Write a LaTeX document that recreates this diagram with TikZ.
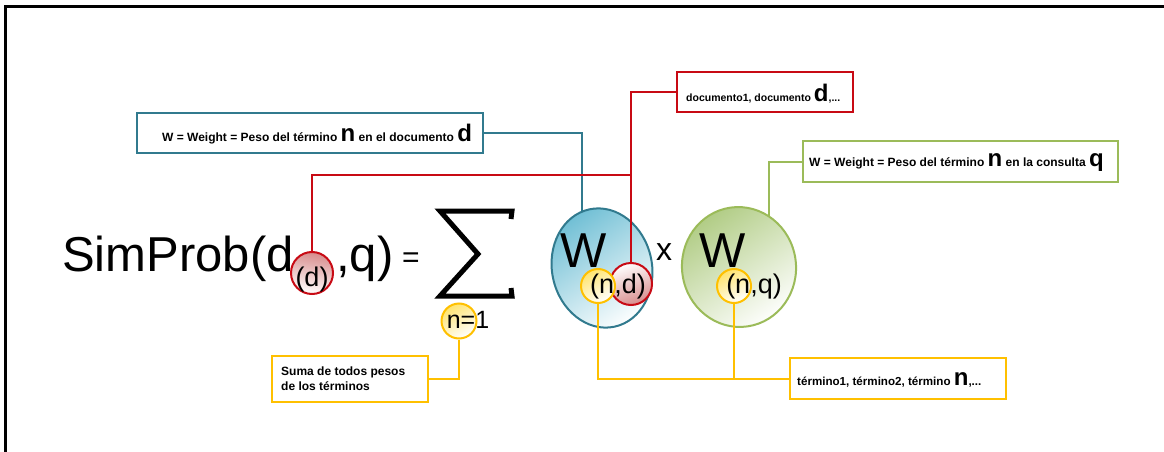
\documentclass[tikz,border=0pt]{standalone}
\usepackage{fontspec}
\setmainfont{Liberation Sans}
\usetikzlibrary{shapes.geometric,calc}
\pgfdeclarelayer{background}
\pgfsetlayers{background,main}
\definecolor{bluec}{RGB}{49,122,142}
\definecolor{bluef}{RGB}{110,190,212}
\definecolor{redc}{RGB}{200,10,20}
\definecolor{redf}{RGB}{215,140,140}
\definecolor{greenc}{RGB}{155,187,89}
\definecolor{greenf}{RGB}{175,203,130}
\definecolor{yelc}{RGB}{255,192,0}
\definecolor{yelf}{RGB}{255,228,110}
\tikzset{
  lbl/.style={inner sep=0pt,anchor=west,font=\fontsize{12}{15}\selectfont\bfseries,align=left},
  box/.style={draw=#1,line width=2pt,fill=white,inner sep=0pt},
  conn/.style={draw=#1,line width=2pt},
  big/.style={inner sep=0pt,font=\fontsize{49}{49}\selectfont},
  mid/.style={inner sep=0pt,font=\fontsize{27}{27}\selectfont},
}
\newcommand{\lgch}[1]{{\fontsize{24}{24}\selectfont #1}}
\begin{document}
\begin{tikzpicture}[x=1pt,y=-1pt]
\useasboundingbox (0,0) rectangle (1164,452);
% frame
\draw[line width=3pt,black] (5,452) -- (5,7) -- (1164,7);

% boxes
\node[box=bluec,minimum width=346pt,minimum height=40pt] (bluebox) at (310,133) {};
\node[lbl] at (162,134) {W = Weight = Peso del término \lgch{n} en el documento \lgch{d}};
\node[box=redc,minimum width=176pt,minimum height=40pt] (redbox) at (765,92) {};
\node[lbl,font=\fontsize{10.5}{13}\selectfont\bfseries] at (686,94) {documento1, documento \lgch{d},...};
\node[box=greenc,minimum width=315pt,minimum height=41pt] (greenbox) at (960.5,161.5) {};
\node[lbl] at (809,163) {W = Weight = Peso del término \lgch{n} en la consulta \lgch{q}};
\node[box=yelc,minimum width=156pt,minimum height=46pt] (sumbox) at (350,379) {};
\node[lbl] at (281,379) {Suma de todos pesos\\de los términos};
\node[box=yelc,minimum width=216pt,minimum height=41pt] (termbox) at (897.5,378.5) {};
\node[lbl,font=\fontsize{11.6}{13}\selectfont\bfseries] at (797,380) {término1, término2, término \lgch{n},...};

% ellipses
\node[ellipse,draw=bluec,line width=2pt,minimum width=100pt,minimum height=120pt,rotate=12,
  top color=bluef,bottom color=white,shading angle=35] (blueell) at (602,268) {};
\node[ellipse,draw=greenc,line width=2pt,minimum width=114pt,minimum height=120pt,rotate=8,
  top color=greenf,bottom color=white,shading angle=35] (greenell) at (739,267) {};

% formula
\node[big,anchor=base west] (simprob) at (62,271) {SimProb(d};
\node[circle,draw=redc,line width=2pt,minimum size=42pt,top color=redf,bottom color=white,shading angle=-10] (redd) at (312,273) {};
\node[mid] at (312,280) {(d)};
\node[big,anchor=base west] (q) at (336,271) {,q)};
\node[inner sep=0pt,font=\fontsize{30}{30}\selectfont] (eq) at (411,260) {=};
\draw[line width=5pt,line join=miter] (511,219) -- (512,211) -- (440,211) -- (478,254) -- (440,296) -- (512,296) -- (511,288);
\node[circle,draw=yelc,line width=2pt,minimum size=35pt,top color=yelf,bottom color=white,shading angle=30] (ysum) at (459,321) {};
\node[inner sep=0pt,font=\fontsize{25}{25}\selectfont] at (468,320) {n=1};

\node[big] (w1) at (584,251) {W};
\node[circle,draw=redc,line width=2pt,minimum size=42pt,top color=redf,bottom color=white,shading angle=200] (rednd) at (631,284) {};
\node[circle,draw=yelc,line width=2pt,minimum size=34pt,top color=yelf,bottom color=white,shading angle=30] (ycnd) at (598,286) {};
\node[mid] at (618,287) {(n,d)};
\node[inner sep=0pt,font=\fontsize{32}{32}\selectfont] (times) at (664,252) {x};
\node[big] (w2) at (723,251) {W};
\node[circle,draw=yelc,line width=2pt,minimum size=34pt,top color=yelf,bottom color=white,shading angle=30] (ycnq) at (734,286) {};
\node[mid] at (754,287) {(n,q)};

% connectors
\begin{pgfonlayer}{background}
\draw[conn=bluec] (bluebox.east) -| ([xshift=-20pt]blueell.center);
\draw[conn=greenc] (greenbox.west) -| ([xshift=30pt]greenell.center);
\end{pgfonlayer}
\coordinate (rj) at ($(rednd.north)+(0,-87)$);
\draw[conn=redc] (redbox.west) -| (rednd.north);
\draw[conn=redc] (rj) -| (redd.north);
\draw[conn=yelc] (ysum.south) |- (sumbox.east);
\draw[conn=yelc] (ycnd.south) |- (termbox.west);
\draw[conn=yelc] (ycnq.south) -- (ycnq.south |- termbox.west);
\end{tikzpicture}
\end{document}
